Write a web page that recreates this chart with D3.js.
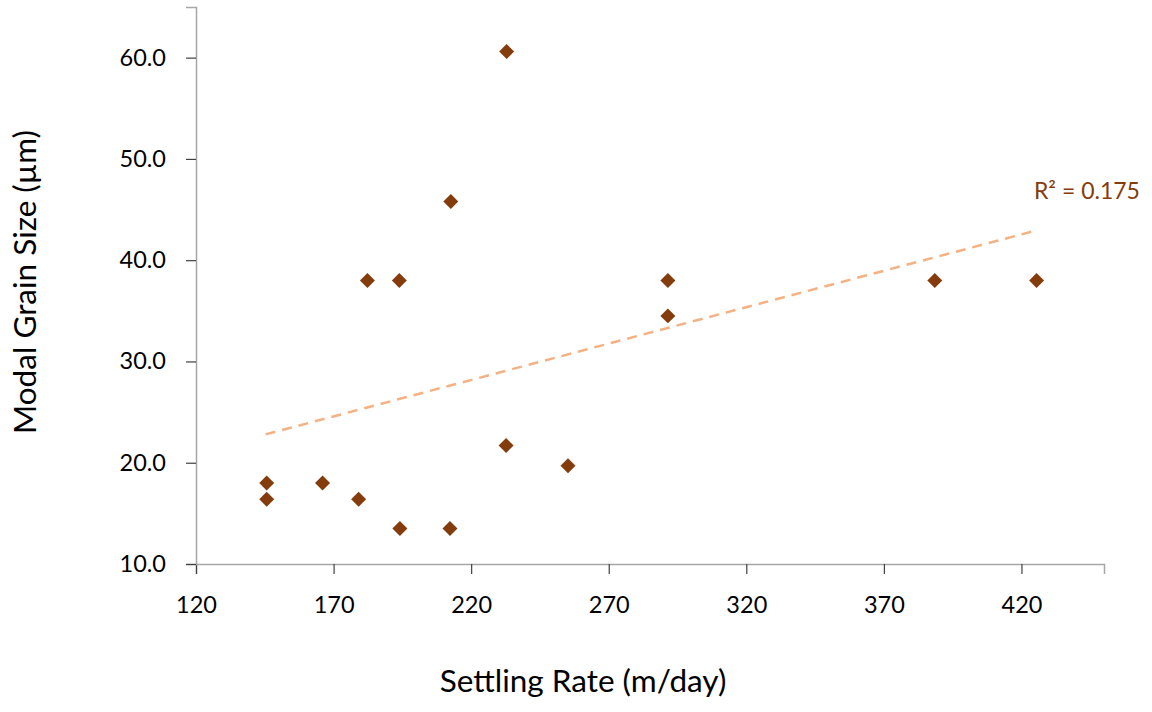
<!DOCTYPE html>
<html>
<head>
<meta charset="utf-8">
<script src="https://cdn.jsdelivr.net/npm/d3@7"></script>
<style>
  html, body { margin: 0; padding: 0; background: #fff; }
  svg { display: block; font-family: Lato, "Open Sans", sans-serif; }
</style>
</head>
<body>
<svg id="chart" width="1152" height="712"></svg>
<script>
// settling rate (m/day) vs modal grain size (µm)
const settlingRate = [145.7, 145.7, 166.0, 179.1, 182.3, 193.9, 194.1, 212.3, 212.6, 232.9, 232.7, 255.2, 291.5, 291.5, 388.5, 425.5];
const grainSize    = [18.0, 16.4, 18.0, 16.4, 38.0, 38.0, 13.5, 13.5, 45.8, 60.6, 21.7, 19.7, 38.0, 34.5, 38.0, 38.0];

const xTicks = [120, 170, 220, 270, 320, 370, 420];
const yTicks = [10, 20, 30, 40, 50, 60];

const trendX = [145.3, 424.9];
const trendY = [22.8, 42.9];
const r2Label = "R² = 0.175";

const width = 1152;
const height = 712;
const margin = { top: 7, right: 48, bottom: 148, left: 196 };
const fontFamily = "Lato, 'Open Sans', sans-serif";

const svg = d3.select("#chart");

const x = d3.scaleLinear().domain([120, 450]).range([margin.left, width - margin.right]);
const y = d3.scaleLinear().domain([10, 65]).range([height - margin.bottom, margin.top]);

const axisColor = "#a6a6a6";

// x axis
const gx = svg.append("g")
  .attr("transform", `translate(0,${y(10)})`)
  .call(d3.axisBottom(x).tickValues(xTicks).tickSize(10).tickPadding(22).tickFormat(d3.format("d")))
  .attr("font-family", fontFamily);
gx.select(".domain").attr("stroke", axisColor).attr("stroke-width", 1.5);
gx.selectAll(".tick line").attr("stroke", "#404040").attr("stroke-width", 1.2);
gx.selectAll(".tick text").attr("font-size", 23.5).attr("fill", "#000");

// y axis
const gy = svg.append("g")
  .attr("transform", `translate(${x(120)},0)`)
  .call(d3.axisLeft(y).tickValues(yTicks).tickSize(10).tickPadding(20).tickFormat(d3.format(".1f")))
  .attr("font-family", fontFamily);
gy.select(".domain").attr("stroke", axisColor).attr("stroke-width", 1.5);
gy.selectAll(".tick line").attr("stroke", "#404040").attr("stroke-width", 1.2);
gy.selectAll(".tick text").attr("font-size", 23.5).attr("fill", "#000");

// trendline
svg.append("line")
  .attr("x1", x(trendX[0])).attr("y1", y(trendY[0]))
  .attr("x2", x(trendX[1])).attr("y2", y(trendY[1]))
  .attr("stroke", "#f4b183")
  .attr("stroke-width", 2.5)
  .attr("stroke-dasharray", "10,7");

svg.append("text")
  .attr("x", x(trendX[1]) - 1)
  .attr("y", y(trendY[1]) - 32)
  .attr("font-size", 23)
  .attr("fill", "#843c0c")
  .text(r2Label);

// markers
const diamond = d3.symbol().type(d3.symbolSquare).size(112);
svg.append("g")
  .selectAll("path")
  .data(settlingRate.map((v, i) => ({ x: v, y: grainSize[i] })))
  .join("path")
  .attr("d", diamond)
  .attr("transform", (d) => `translate(${x(d.x)},${y(d.y)}) rotate(45)`)
  .attr("fill", "#843c0c");

// axis titles
svg.append("text")
  .attr("x", 583)
  .attr("y", 692)
  .attr("text-anchor", "middle")
  .attr("font-size", 31.5)
  .attr("fill", "#000")
  .text("Settling Rate (m/day)");

svg.append("text")
  .attr("transform", `translate(36,282) rotate(-90)`)
  .attr("text-anchor", "middle")
  .attr("font-size", 31.5)
  .attr("fill", "#000")
  .text("Modal Grain Size (µm)");
</script>
</body>
</html>
